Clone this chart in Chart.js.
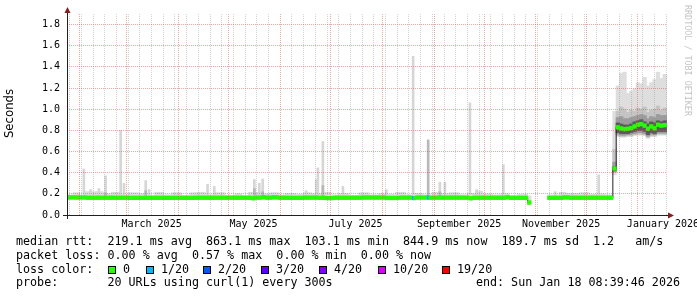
<!DOCTYPE html>
<html>
<head>
<meta charset="utf-8">
<title>median rtt - last 360 days</title>
<script src="https://cdn.jsdelivr.net/npm/chart.js@4.4.1/dist/chart.umd.min.js"></script>
<style>
  html, body { margin: 0; padding: 0; background: #fff; }
  #wrap { width: 697px; height: 297px; }
</style>
</head>
<body>
<div id="wrap"><canvas id="chart" width="697" height="297"></canvas></div>
<script>
// x values are days counted from 1 Jan 2025 (= day 0)
// every step series holds its value until the next listed day
const FIRST_DAY = 23, LAST_DAY = 382;

// axis
const monthStarts = [31, 59, 90, 120, 151, 181, 212, 243, 273, 304, 334, 365];
const labelDays = [74, 135, 196, 258, 319, 380];
const labelTexts = ['March 2025', 'May 2025', 'July 2025', 'September 2025', 'November 2025', 'January 2026'];
const yTicks = [0, 0.1, 0.2, 0.3, 0.4, 0.5, 0.6, 0.7, 0.8, 0.9, 1.0, 1.1, 1.2, 1.3, 1.4, 1.5, 1.6, 1.7, 1.8, 1.9];

// median rtt (seconds)
const medianDays = [23, 35, 60, 100, 134, 136, 140, 142, 146, 150,
  155, 165, 174, 178, 183, 200, 214, 222, 230, 232,
  240, 242, 264, 266, 286, 288, 299, 301, 311, 320,
  324, 350, 352, 354, 356, 358, 360, 362, 364, 366,
  368, 370, 372, 374, 376, 378, 380];
const medianVals = [0.166, 0.163, 0.162, 0.163, 0.158, 0.164, 0.169, 0.164, 0.167, 0.163,
  0.162, 0.164, 0.162, 0.160, 0.163, 0.165, 0.161, 0.164, 0.160, 0.165,
  0.163, 0.164, 0.158, 0.163, 0.168, 0.162, 0.118, null, 0.162, 0.166,
  0.163, 0.44, 0.828, 0.818, 0.812, 0.815, 0.822, 0.837, 0.853, 0.86,
  0.845, 0.815, 0.837, 0.82, 0.853, 0.845, 0.85];

// packet loss (index into lossLabels), only where it is not 0
const lossDays = [230, 239];
const lossLevel = [1, 1];
const lossLabels = ['0', '1/20', '2/20', '3/20', '4/20', '10/20', '19/20'];

// ping spread before the jump
const smokeDays = [23, 27, 31, 34, 45, 50, 55, 60, 66, 70,
  76, 81, 86, 92, 97, 101, 106, 111, 118, 124,
  128, 132, 140, 145, 150, 154, 160, 165, 170, 176,
  181, 186, 192, 198, 204, 210, 215, 220, 226, 231,
  236, 242, 247, 252, 258, 263, 268, 272, 278, 283,
  288, 293, 299, 301, 311, 318, 322, 330, 336, 341,
  345, 350];
const smokeHigh = [0.19, 0.21, 0.18, 0.22, 0.20, 0.215, 0.19, 0.21, 0.20, 0.185,
  0.215, 0.19, 0.21, 0.185, 0.21, 0.215, 0.19, 0.21, 0.185, 0.20,
  0.185, 0.215, 0.20, 0.21, 0.19, 0.205, 0.195, 0.21, 0.20, 0.215,
  0.19, 0.205, 0.185, 0.21, 0.19, 0.205, 0.195, 0.215, 0.19, 0.205,
  0.19, 0.215, 0.20, 0.21, 0.19, 0.205, 0.225, 0.20, 0.19, 0.20,
  0.185, 0.195, 0.18, null, 0.19, 0.215, 0.205, 0.21, 0.195, 0.20,
  0.19, null];
const smokeLowDays = [23, 299, 301];
const smokeLowVals = [0.152, 0.10, 0.152];

// single-day outliers
const spikeDays = [33, 37, 42, 46, 55, 57, 70, 72, 107, 111,
  135, 138, 140, 166, 172, 173, 176, 188, 214, 230,
  246, 249, 264, 268, 284, 315, 341];
const spikeTops = [0.435, 0.24, 0.25, 0.37, 0.80, 0.30, 0.325, 0.24, 0.29, 0.27,
  0.335, 0.30, 0.34, 0.23, 0.335, 0.445, 0.695, 0.27, 0.24, 1.50,
  0.31, 0.31, 1.06, 0.24, 0.476, 0.22, 0.38];
const denseSpikeDays = [46, 70, 135, 140, 176, 239, 246];
const denseSpikeTops = [0.21, 0.23, 0.25, 0.22, 0.28, 0.71, 0.22];

// ping spread after the jump (outer band to inner band)
const lateDays = [350, 352, 354, 356, 358, 360, 362, 364, 366, 368, 370, 372, 374, 376, 378, 380];
const lateMax = [0.98, 1.22, 1.34, 1.35, 1.15, 1.17, 1.19, 1.25, 1.24, 1.30, 1.22, 1.25, 1.28, 1.35, 1.29, 1.33];
const lateHi2 = [0.62, 0.98, 1.02, 1.00, 0.97, 0.99, 0.98, 1.01, 1.00, 1.02, 0.97, 0.99, 1.00, 1.03, 0.99, 1.01];
const lateHi3 = [0.50, 0.92, 0.93, 0.91, 0.91, 0.92, 0.93, 0.94, 0.95, 0.94, 0.91, 0.93, 0.92, 0.95, 0.94, 0.94];
const lateHi4 = [0.46, 0.87, 0.86, 0.85, 0.85, 0.86, 0.88, 0.89, 0.90, 0.88, 0.86, 0.88, 0.87, 0.89, 0.88, 0.89];
const lateLo4 = [0.42, 0.78, 0.77, 0.77, 0.77, 0.78, 0.79, 0.80, 0.80, 0.79, 0.76, 0.78, 0.77, 0.79, 0.79, 0.79];
const lateLo3 = [0.41, 0.765, 0.755, 0.755, 0.76, 0.765, 0.77, 0.78, 0.78, 0.77, 0.745, 0.765, 0.76, 0.775, 0.775, 0.775];
const lateLo2 = [0.40, 0.75, 0.745, 0.745, 0.75, 0.75, 0.76, 0.765, 0.765, 0.76, 0.735, 0.75, 0.75, 0.765, 0.765, 0.765];
const lateMin = [0.38, 0.74, 0.735, 0.735, 0.74, 0.74, 0.75, 0.755, 0.755, 0.75, 0.725, 0.74, 0.74, 0.755, 0.755, 0.755];

// styles
const lossColors = ['#26ff00', '#00b8ff', '#0059ff', '#5e00ff', '#7e00ff', '#dd00ff', '#ff0000'];
const MONO = '"DejaVu Sans Mono", monospace';
const GRID_MINOR = 'rgba(130,130,130,0.35)';
const GRID_MAJOR = 'rgba(222,79,79,0.5)';

function stepAt(days, vals, d) {
  let v = null;
  for (let i = 0; i < days.length && days[i] <= d; i++) v = vals[i];
  return v;
}

const dayList = [];
for (let d = FIRST_DAY; d <= LAST_DAY; d++) dayList.push(d);

function bandData(loDays, loVals, hiDays, hiVals) {
  const out = [];
  dayList.forEach(d => {
    const lo = stepAt(loDays, loVals, d), hi = stepAt(hiDays, hiVals, d);
    if (lo !== null && hi !== null) out.push({ x: d + 0.5, y: [lo, hi] });
  });
  return out;
}

const medianLine = dayList.map(d => ({ x: d + 0.5, y: stepAt(medianDays, medianVals, d) }));
const medianBars = medianLine.filter(p => p.y !== null).map(p => ({ x: p.x, y: [p.y - 0.017, p.y + 0.017] }));
const medianColors = medianBars.map(p => {
  const i = lossDays.indexOf(p.x - 0.5);
  return lossColors[i >= 0 ? lossLevel[i] : 0];
});

function barSet(data, color, order) {
  return { type: 'bar', data, backgroundColor: color, borderWidth: 0,
    barThickness: 2, grouped: false, order };
}

const weekDays = [];
for (let d = 25; d <= LAST_DAY; d += 7) weekDays.push(d);

const decor = {
  id: 'decor',
  afterDraw(chart) {
    const ctx = chart.ctx;
    const { left, right, top, bottom } = chart.chartArea;
    ctx.save();
    // axes
    ctx.strokeStyle = '#202020';
    ctx.lineWidth = 1;
    ctx.beginPath();
    ctx.moveTo(left - 4, bottom + 0.5); ctx.lineTo(right + 2, bottom + 0.5);
    ctx.moveTo(left + 0.5, bottom + 4); ctx.lineTo(left + 0.5, top - 2);
    ctx.stroke();
    ctx.fillStyle = '#7f1f1f';
    ctx.beginPath();
    ctx.moveTo(right + 1, bottom - 2.5); ctx.lineTo(right + 7, bottom + 0.5); ctx.lineTo(right + 1, bottom + 3.5);
    ctx.fill();
    ctx.beginPath();
    ctx.moveTo(left - 2.5, top - 1); ctx.lineTo(left + 0.5, top - 7); ctx.lineTo(left + 3.5, top - 1);
    ctx.fill();

    // y title
    ctx.fillStyle = '#000';
    ctx.font = '11.7px "DejaVu Sans", sans-serif';
    ctx.save();
    ctx.translate(13, 113.5);
    ctx.rotate(-Math.PI / 2);
    ctx.textAlign = 'center';
    ctx.textBaseline = 'alphabetic';
    ctx.fillText('Seconds', 0, 0);
    ctx.restore();

    // watermark
    ctx.save();
    ctx.fillStyle = '#c4c4c4';
    ctx.font = '8.4px ' + MONO;
    ctx.translate(685, 5);
    ctx.rotate(Math.PI / 2);
    ctx.textBaseline = 'alphabetic';
    ctx.fillText('RRDTOOL / TOBI OETIKER', 0, 0);
    ctx.restore();

    // legend
    ctx.font = '11.7px ' + MONO;
    ctx.textBaseline = 'middle';
    ctx.fillStyle = '#000';
    ctx.fillText('median rtt:  219.1 ms avg  863.1 ms max  103.1 ms min  844.9 ms now  189.7 ms sd  1.2   am/s', 16, 242);
    ctx.fillText('packet loss: 0.00 % avg  0.57 % max  0.00 % min  0.00 % now', 16, 255.5);
    ctx.fillText('loss color:', 16, 269.5);
    const boxX = [108, 146, 203, 261, 319, 378, 442];
    lossLabels.forEach((lab, i) => {
      ctx.fillStyle = lossColors[i];
      ctx.fillRect(boxX[i], 266, 8, 8);
      ctx.strokeStyle = '#000';
      ctx.strokeRect(boxX[i] + 0.5, 266.5, 7, 7);
      ctx.fillStyle = '#000';
      ctx.fillText(lab, boxX[i] + 15, 269.5);
    });
    ctx.fillText('probe:       20 URLs using curl(1) every 300s', 16, 283);
    ctx.textAlign = 'right';
    ctx.fillText('end: Sun Jan 18 08:39:46 2026', 680, 283);
    ctx.restore();
  }
};

new Chart(document.getElementById('chart'), {
  type: 'bar',
  data: {
    datasets: [
      barSet(bandData(smokeLowDays, smokeLowVals, smokeDays, smokeHigh), '#dcdcdc', 20),
      barSet(spikeDays.map((d, i) => ({ x: d + 0.5, y: [0.16, spikeTops[i]] })), '#d6d6d6', 19),
      barSet(denseSpikeDays.map((d, i) => ({ x: d + 0.5, y: [0.16, denseSpikeTops[i]] })), '#b8b8b8', 18),
      barSet(bandData(lateDays, lateMin, lateDays, lateMax), '#dedede', 17),
      barSet(bandData(lateDays, lateLo2, lateDays, lateHi2), '#c4c4c4', 16),
      barSet(bandData(lateDays, lateLo3, lateDays, lateHi3), '#9c9c9c', 15),
      barSet(bandData(lateDays, lateLo4, lateDays, lateHi4), '#5a5a5a', 14),
      { type: 'line', data: medianLine, borderColor: '#202020', borderWidth: 1,
        pointRadius: 0, stepped: 'middle', spanGaps: false, order: 2 },
      { type: 'bar', data: medianBars, backgroundColor: medianColors, borderWidth: 0,
        barThickness: 2, grouped: false, order: 1 }
    ]
  },
  options: {
    responsive: false,
    animation: false,
    devicePixelRatio: 1,
    events: [],
    layout: { padding: { left: 0, top: 14, right: 30, bottom: 62 } },
    plugins: { legend: { display: false }, tooltip: { enabled: false } },
    scales: {
      x: {
        type: 'linear', min: FIRST_DAY + 0.4, max: LAST_DAY + 0.4, offset: false,
        afterBuildTicks: s => {
          const vals = [...new Set([...weekDays, ...monthStarts, ...labelDays])].sort((a, b) => a - b);
          s.ticks = vals.map(v => ({ value: v }));
        },
        afterFit: s => { s.height = 20; },
        ticks: {
          autoSkip: false, maxRotation: 0, minRotation: 0, padding: 3,
          font: { family: MONO, size: 10 }, color: '#000',
          callback: v => { const i = labelDays.indexOf(v); return i >= 0 ? labelTexts[i] : ''; }
        },
        grid: {
          offset: false, drawTicks: false, z: 1,
          color: c => monthStarts.includes(c.tick.value) ? GRID_MAJOR : GRID_MINOR,
          lineWidth: c => (monthStarts.includes(c.tick.value) || weekDays.includes(c.tick.value)) ? 1 : 0
        },
        border: { display: false, dash: [1, 1] }
      },
      y: {
        min: 0, max: 1.9,
        afterBuildTicks: s => { s.ticks = yTicks.map(v => ({ value: v })); },
        afterFit: s => { s.width = 67; },
        ticks: {
          padding: 7, font: { family: MONO, size: 10 }, color: '#000',
          callback: v => Math.round(v * 10) % 2 === 0 ? v.toFixed(1) : ''
        },
        grid: {
          drawTicks: false, z: 1,
          color: c => Math.round(c.tick.value * 10) % 2 === 0 ? GRID_MAJOR : GRID_MINOR
        },
        border: { display: false, dash: [1, 1] }
      }
    }
  },
  plugins: [decor]
});
</script>
</body>
</html>
